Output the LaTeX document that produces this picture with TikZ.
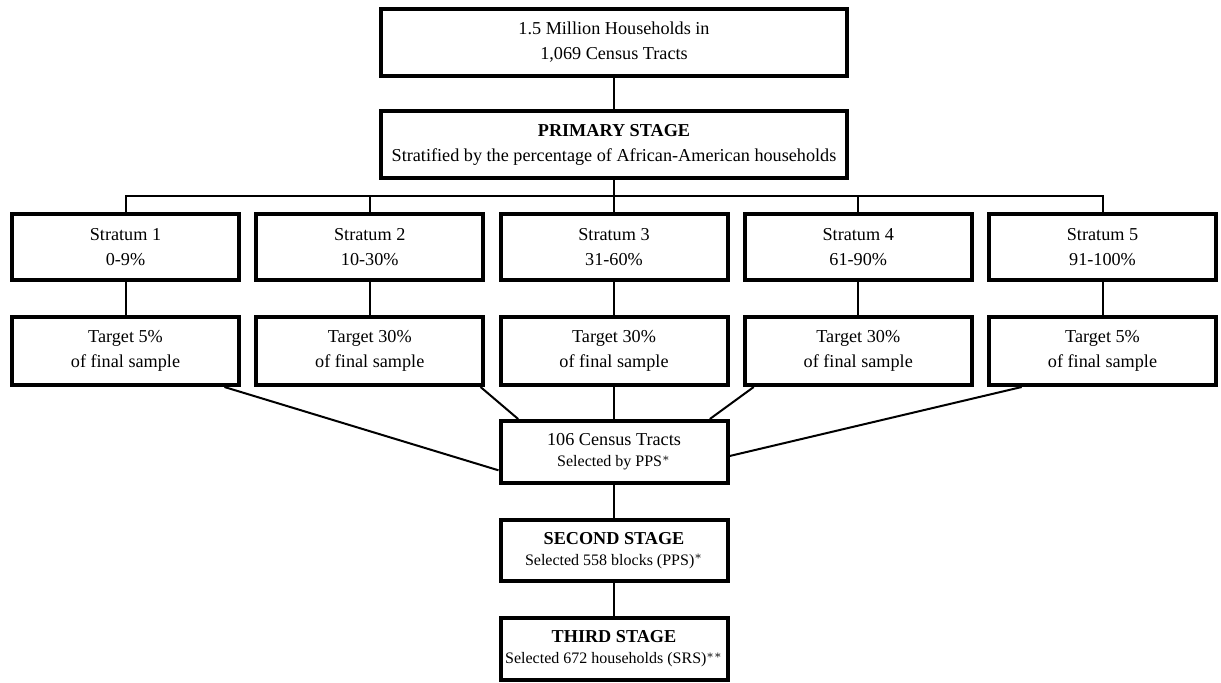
\documentclass[tikz,border=0pt]{standalone}
\usepackage{fontspec}
\setmainfont{Liberation Serif}
\usetikzlibrary{positioning}

\newcommand{\smalltext}{\fontsize{8}{10}\selectfont}

\begin{document}
\begin{tikzpicture}[x=1pt,y=1pt,node distance=50pt,on grid,
    box/.style={draw,line width=2pt,align=center,inner sep=0pt,
      font=\fontsize{9.1}{12.5}\selectfont},
    wide/.style={box,minimum width=233pt,minimum height=33.5pt},
    narrow/.style={box,minimum width=113.5pt,minimum height=33pt},
    link/.style={line width=1pt}]
  \useasboundingbox (0,0) rectangle (610.5,-341);

  \node[wide] (top) at (307,-21.25) {1.5 Million Households in\\1,069 Census Tracts};
  \node[wide] (prim) [below=51pt of top] {\textbf{PRIMARY STAGE}\\Stratified by the percentage of African-American households};
  \coordinate[below=25.75pt of prim] (bus);

  \node[narrow] (s_3) [below=51.25pt of prim] {Stratum 3\\31-60\%};
  \node[narrow] (s_2) [left=122.125pt of s_3] {Stratum 2\\10-30\%};
  \node[narrow] (s_1) [left=122.125pt of s_2] {Stratum 1\\0-9\%};
  \node[narrow] (s_4) [right=122.125pt of s_3] {Stratum 4\\61-90\%};
  \node[narrow] (s_5) [right=122.125pt of s_4] {Stratum 5\\91-100\%};

  \node[narrow,minimum height=34pt] (t_1) [below=52pt of s_1] {Target 5\%\\of final sample};
  \node[narrow,minimum height=34pt] (t_2) [below=52pt of s_2] {Target 30\%\\of final sample};
  \node[narrow,minimum height=34pt] (t_3) [below=52pt of s_3] {Target 30\%\\of final sample};
  \node[narrow,minimum height=34pt] (t_4) [below=52pt of s_4] {Target 30\%\\of final sample};
  \node[narrow,minimum height=34pt] (t_5) [below=52pt of s_5] {Target 5\%\\of final sample};

  \node[narrow,minimum height=31pt] (c) [below=50.5pt of t_3] {106 Census Tracts\\[-2pt]{\smalltext Selected by PPS$^*$}};
  \node[narrow,minimum height=30.5pt] (st_2) [below=49.25pt of c] {\textbf{SECOND STAGE}\\[-2pt]{\smalltext Selected 558 blocks (PPS)$^*$}};
  \node[narrow,minimum height=31pt] (st_3) [below=49.25pt of st_2] {\textbf{THIRD STAGE}\\[-2pt]{\smalltext Selected 672 households (SRS)$^{**}$}};

  \draw[link] (top) -- (prim);
  \draw[link] (prim) -- (bus);
  \draw[link] (s_1.north) |- (bus) -| (s_5.north);
  \foreach \i in {2,3,4}
    \draw[link] (s_\i.north) -- (s_\i.north |- bus);
  \foreach \i in {1,...,5}
    \draw[link] (s_\i) -- (t_\i);
  \draw[link] (t_1.-20) -- (c.189);
  \draw[link] (t_2.-18) -- (c.161);
  \draw[link] (t_3) -- (c);
  \draw[link] (t_4.-161) -- (c.19);
  \draw[link] (t_5.-156) -- (c.-2);
  \draw[link] (c) -- (st_2);
  \draw[link] (st_2) -- (st_3);
\end{tikzpicture}
\end{document}
